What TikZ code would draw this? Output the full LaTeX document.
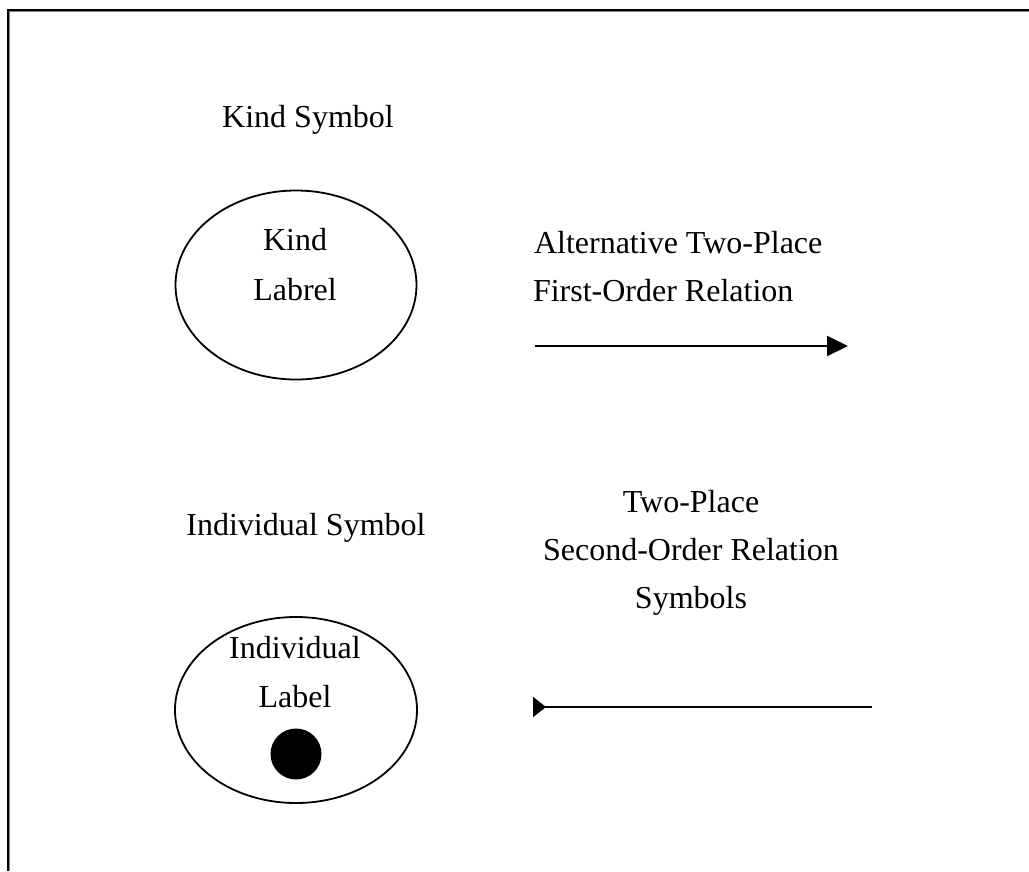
\documentclass[tikz,border=0pt]{standalone}
\usepackage{fontspec}
\setmainfont{Liberation Serif}
\usetikzlibrary{arrows.meta,shapes.geometric}
\tikzset{
  txt/.style={font=\fontsize{32}{48}\selectfont, inner sep=0pt, outer sep=0pt},
  symb/.style={draw, ellipse, line width=1.8pt, inner sep=0pt},
  conn/.style={line width=2pt},
}
\begin{document}
\begin{tikzpicture}[x=1pt,y=-1pt]
\useasboundingbox (0,0) rectangle (1029,871);
% frame
\draw[gray, line width=1pt] (9.5,871) -- (9.5,11.5) -- (1029,11.5);
\draw[black, line width=2pt] (8,871) -- (8,10) -- (1029,10);
% kind symbol
\node[txt, anchor=base] (kindtitle) at (308,127) {Kind Symbol};
\node[symb, minimum width=241pt, minimum height=189pt] (kind) at (296,285) {};
\node[txt, anchor=base] (kindl1) at (295,250) {Kind};
\node[txt, anchor=base] (kindl2) at (295,300) {Labrel};
% individual symbol
\node[txt, anchor=base] (indtitle) at (306,535) {Individual Symbol};
\node[symb, minimum width=242pt, minimum height=186pt] (indiv) at (296,710) {};
\node[txt, anchor=base] (indl1) at (295,658) {Individual};
\node[txt, anchor=base] (indl2) at (295,707) {Label};
\node[circle, fill=black, minimum size=51pt, inner sep=0pt] (dot) at (296,754) {};
% first-order relation
\node[txt, anchor=base west] (alt1) at (534,253) {Alternative Two-Place};
\node[txt, anchor=base west] (alt2) at (533,301) {First-Order Relation};
\coordinate (a1s) at (535,346);
\coordinate (a1e) at (848,346);
\draw[conn, -{Triangle[length=21pt,width=20pt]}] (a1s) -- (a1e);
% second-order relation
\node[txt, anchor=base] (sec1) at (691,512) {Two-Place};
\node[txt, anchor=base] (sec2) at (691,560) {Second-Order Relation};
\node[txt, anchor=base] (sec3) at (691,608) {Symbols};
\coordinate (a2s) at (533,707);
\coordinate (a2e) at (872,707);
\draw[conn, {Triangle[reversed,length=13pt,width=20pt]}-] (a2s) -- (a2e);
\end{tikzpicture}
\end{document}
